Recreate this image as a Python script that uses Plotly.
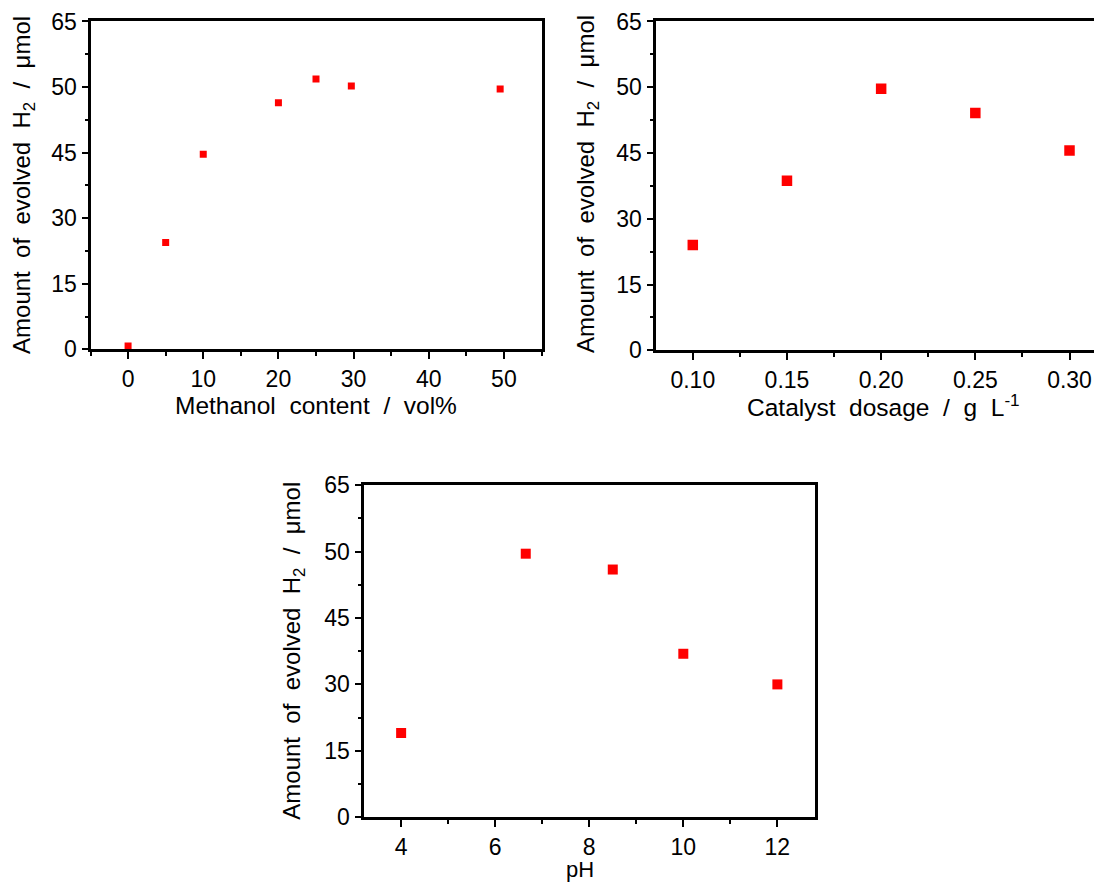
import plotly.graph_objects as go

# ---- data (y in axis position units 0..65) ----
methanol_x = [0, 5, 10, 20, 25, 29.7, 49.5]
methanol_y = [0.65, 21.2, 38.7, 48.9, 53.6, 52.2, 51.6]

dosage_x = [0.10, 0.15, 0.20, 0.25, 0.30]
dosage_y = [20.8, 33.5, 51.7, 46.9, 39.5]

ph_x = [4, 6.65, 8.5, 10, 12]
ph_y = [16.5, 51.6, 48.5, 32.0, 26.0]

y_tickvals = [0, 13, 26, 39, 52, 65]
y_ticktext = ["0", "15", "30", "45", "50", "65"]

# empirical page-to-picture correction
OFFX = 7.5
OFFY, SY = 20.5, 0.971
W, H = 1094, 883
FONT = "Arial, 'Liberation Sans', Helvetica, sans-serif"
RED = "#ff0000"

fig = go.Figure()
fig.add_trace(go.Scatter(x=methanol_x, y=methanol_y, mode="markers",
                         marker=dict(symbol="square", size=7, color=RED),
                         xaxis="x", yaxis="y", showlegend=False))
fig.add_trace(go.Scatter(x=dosage_x, y=dosage_y, mode="markers",
                         marker=dict(symbol="square", size=10.5, color=RED),
                         xaxis="x2", yaxis="y2", showlegend=False))
fig.add_trace(go.Scatter(x=ph_x, y=ph_y, mode="markers",
                         marker=dict(symbol="square", size=10, color=RED),
                         xaxis="x3", yaxis="y3", showlegend=False))

def px_x(p):
    return min(1.0, max(0.0, (p - OFFX) / W))

def px_y(p):
    return min(1.0, max(0.0, 1 - ((p - OFFY) / SY) / H))

tickfont = dict(family=FONT, size=23, color="black")

def xax(domain, rng, dtick, minor_dtick, tickformat=None, mirror=True, anchor="y"):
    d = dict(domain=domain, range=rng, anchor=anchor, showgrid=False, zeroline=False,
             showline=True, linecolor="black", linewidth=3, mirror=mirror,
             ticks="outside", ticklen=7, tickwidth=2, tickcolor="black",
             dtick=dtick, tick0=0, tickfont=tickfont,
             minor=dict(dtick=minor_dtick, ticks="outside", ticklen=3.5, tickwidth=2,
                        tickcolor="black", showgrid=False))
    if tickformat:
        d["tickformat"] = tickformat
    return d

def yax(domain, anchor, mirror=True):
    return dict(domain=domain, range=[0, 65], anchor=anchor, showgrid=False, zeroline=False,
                showline=True, linecolor="black", linewidth=3, mirror=mirror,
                ticks="outside", ticklen=6, tickwidth=2, tickcolor="black",
                tickmode="array", tickvals=y_tickvals, ticktext=y_ticktext,
                tickfont=tickfont,
                minor=dict(tickmode="array", tickvals=[6.5, 19.5, 32.5, 45.5, 58.5],
                           ticks="outside", ticklen=3, tickwidth=2, tickcolor="black",
                           showgrid=False))

# right edge of panel 2 is clipped at the picture edge
x2_right_val = 0.30 + (1101.5 - 1069) / 94.2 * 0.05

fig.update_layout(
    width=W, height=H,
    margin=dict(l=0, r=0, t=0, b=0),
    paper_bgcolor="white", plot_bgcolor="white",
    font=dict(family=FONT, color="black"),
    xaxis=xax([px_x(90), px_x(541)], [-5, 55], 10, 5, anchor="y"),
    yaxis=yax([px_y(349), px_y(21)], "x"),
    xaxis2=xax([px_x(655), 1.0], [0.0802, x2_right_val], 0.05, 0.025, tickformat=".2f", anchor="y2"),
    yaxis2=yax([px_y(350), px_y(21)], "x2", mirror=False),
    xaxis3=xax([px_x(363), px_x(814.5)], [3.2, 12.8], 2, 1, anchor="y3"),
    yaxis3=yax([px_y(817), px_y(485)], "x3"),
)

ytitle = "Amount  of  evolved  H<sub>2</sub>  /  \u03bcmol"
annotations = [
    dict(text=ytitle, x=px_x(23), y=px_y(185), textangle=-90, size=24),
    dict(text=ytitle, x=px_x(587), y=px_y(184), textangle=-90, size=24),
    dict(text=ytitle, x=px_x(293), y=px_y(651), textangle=-90, size=24),
    dict(text="Methanol  content  /  vol%", x=px_x(315.5), y=px_y(405), size=24.5),
    dict(text="Catalyst  dosage  /  g  L<sup>-1</sup>", x=px_x(883), y=px_y(405), size=24.5),
    dict(text="pH", x=px_x(579), y=px_y(869.5), size=22),
]
final = []
for a in annotations:
    size = a.pop("size", 24)
    a.update(xref="paper", yref="paper", showarrow=False,
             font=dict(family=FONT, size=size, color="black"),
             xanchor="center", yanchor="middle")
    final.append(a)
fig.update_layout(annotations=final)

fig.write_html("out.html")
